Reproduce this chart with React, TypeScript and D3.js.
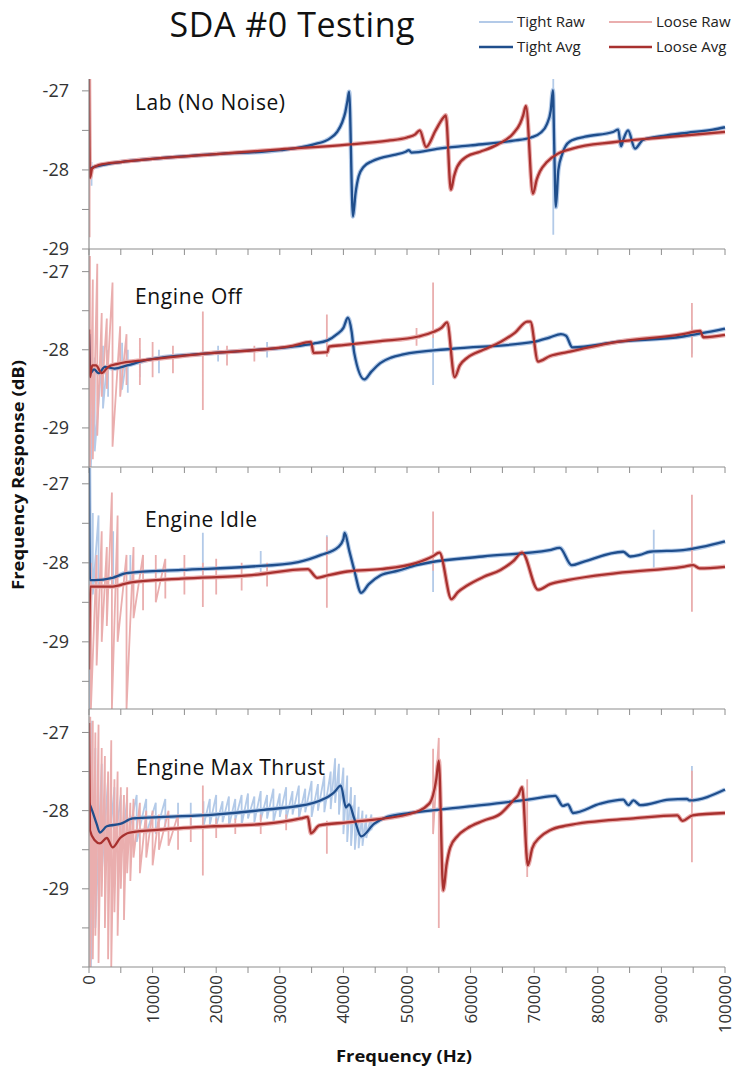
import React from 'react';
import * as d3 from 'd3';

type Pt = [number, number];
type Spike = [number, number, number];

// ---------- DATA ----------
const chartTitle = 'SDA #0 Testing';
const panelNames = ['Lab (No Noise)', 'Engine Off', 'Engine Idle', 'Engine Max Thrust'];
const legendLabels = ['Tight Raw', 'Tight Avg', 'Loose Raw', 'Loose Avg'];
const xTickValues = [0, 10000, 20000, 30000, 40000, 50000, 60000, 70000, 80000, 90000, 100000];
const yTickLabels = [-27, -28, -29];
const xTitle = 'Frequency (Hz)';
const yTitle = 'Frequency Response (dB)';

// Panel 1: Lab (No Noise)
const labTightAvg: Pt[] = [
  [0, -28.08], [300, -27.98], [1500, -27.95], [5000, -27.9], [10000, -27.86], [20000, -27.8],
  [30000, -27.75], [35200, -27.68], [37900, -27.6], [39000, -27.52], [39800, -27.4], [40300, -27.27],
  [40650, -27.12], [40900, -27.01], [41500, -28.59], [41900, -28.3], [42400, -28.08], [43200, -27.96],
  [44500, -27.89], [45800, -27.85], [48000, -27.81], [49800, -27.77], [50300, -27.75], [50700, -27.78],
  [55000, -27.73], [60000, -27.69], [66700, -27.63], [69500, -27.59], [71000, -27.53], [72000, -27.42],
  [72600, -27.25], [72950, -26.99], [73150, -27.7], [73400, -28.47], [73800, -28.0], [74400, -27.8],
  [75600, -27.64], [78000, -27.58], [82400, -27.52], [83200, -27.49], [83650, -27.7], [84000, -27.62],
  [84750, -27.5], [85850, -27.73], [87100, -27.62], [90300, -27.57], [94000, -27.53], [98100, -27.49],
  [100000, -27.46],
];
const labLooseAvg: Pt[] = [
  [0, -26.85], [150, -28.1], [500, -27.98], [1500, -27.94], [5000, -27.9], [10000, -27.86],
  [20000, -27.8], [30000, -27.74], [40600, -27.68], [47000, -27.63], [50000, -27.59], [51300, -27.55],
  [52000, -27.5], [53000, -27.71], [54500, -27.5], [55700, -27.34], [56100, -27.31], [56900, -28.25],
  [57400, -28.08], [57900, -27.96], [59400, -27.83], [61500, -27.77], [64200, -27.68], [66700, -27.54],
  [67800, -27.41], [68300, -27.3], [68700, -27.19], [69800, -28.3], [70400, -28.12], [70900, -28.02],
  [72000, -27.9], [73600, -27.8], [76000, -27.73], [82400, -27.65], [90000, -27.59], [100000, -27.52],
];
const labTightSpikes: Spike[] = [[400, -27.9, -28.2], [73000, -26.85, -28.82]];
const labLooseSpikes: Spike[] = [[100, -27.0, -28.85]];

// Panel 2: Engine Off
const offTightAvg: Pt[] = [
  [0, -27.8], [200, -28.3], [800, -28.25], [1500, -28.3], [2500, -28.22], [4000, -28.24],
  [6000, -28.2], [9100, -28.13], [18100, -28.05], [25000, -28.01], [32000, -27.96], [35300, -27.92],
  [37500, -27.88], [39000, -27.8], [40000, -27.72], [40700, -27.59], [41300, -27.77], [41700, -28.04],
  [43300, -28.38], [44400, -28.28], [45800, -28.17], [47500, -28.1], [49400, -28.06], [56800, -27.99],
  [69900, -27.9], [72500, -27.84], [74200, -27.8], [75000, -27.82], [76000, -27.97], [83000, -27.9],
  [93400, -27.83], [100000, -27.73],
];
const offLooseAvg: Pt[] = [
  [0, -27.74], [150, -28.35], [500, -28.2], [1100, -28.2], [2000, -28.3], [3000, -28.22],
  [4500, -28.18], [9100, -28.13], [18100, -28.05], [32000, -27.95], [34900, -27.9], [35300, -28.04],
  [37500, -28.03], [37700, -27.96], [40000, -27.94], [45800, -27.89], [51800, -27.83], [54200, -27.77],
  [55400, -27.72], [56300, -27.65], [57500, -28.35], [58300, -28.2], [59500, -28.1], [62000, -28.0],
  [64700, -27.9], [67000, -27.78], [68900, -27.64], [69400, -27.64], [70600, -28.15], [72500, -28.08],
  [75200, -28.03], [83000, -27.9], [93400, -27.8], [96100, -27.76], [96600, -27.84], [100000, -27.81],
];
const offTightSpikes: Spike[] = [
  [300, -27.9, -29.5], [900, -28.1, -29.3], [2200, -27.95, -28.75], [3000, -28.0, -28.6],
  [5200, -27.91, -28.51], [6100, -28.0, -28.55], [8000, -28.0, -28.35], [11000, -28.0, -28.3],
  [20300, -27.95, -28.15], [28000, -27.9, -28.1], [54100, -27.85, -28.45], [94800, -27.7, -28.05],
];
const offLooseSpikes: Spike[] = [
  [150, -26.8, -29.5], [600, -27.1, -29.4], [1300, -26.9, -29.1], [2000, -27.53, -28.6],
  [2800, -27.6, -28.5], [3700, -27.14, -29.24], [4900, -27.7, -28.6], [5900, -27.8, -28.45],
  [8000, -27.85, -28.45], [10000, -27.9, -28.35], [13200, -27.95, -28.3], [17900, -27.51, -28.77],
  [21700, -27.95, -28.2], [26000, -27.95, -28.15], [37400, -27.55, -28.09], [51500, -27.72, -27.95],
  [54100, -27.14, -27.85], [94800, -27.4, -28.1],
];

// Panel 3: Engine Idle
const idleTightAvg: Pt[] = [
  [0, -26.8], [150, -28.22], [900, -28.22], [3700, -28.19], [5900, -28.13], [14500, -28.09],
  [25000, -28.05], [32900, -27.99], [36500, -27.9], [39200, -27.8], [40000, -27.7], [40200, -27.62],
  [40900, -27.84], [41700, -28.09], [42800, -28.38], [44000, -28.27], [45800, -28.16], [48600, -28.1],
  [51500, -28.03], [61900, -27.92], [72400, -27.84], [74000, -27.81], [75900, -28.03], [77600, -27.99],
  [84000, -27.86], [85100, -27.92], [86600, -27.9], [88200, -27.86], [93400, -27.84], [100000, -27.73],
];
const idleLooseAvg: Pt[] = [
  [0, -29.35], [200, -28.3], [600, -28.3], [3700, -28.3], [6400, -28.25], [14500, -28.2],
  [25000, -28.16], [34400, -28.08], [35900, -28.19], [37500, -28.16], [40600, -28.11], [45800, -28.08],
  [51500, -28.0], [54000, -27.92], [55100, -27.87], [57000, -28.46], [58000, -28.37], [59400, -28.29],
  [62000, -28.18], [64700, -28.09], [66700, -27.98], [68100, -27.87], [70600, -28.34], [72500, -28.27],
  [75200, -28.22], [83000, -28.13], [93400, -28.05], [95000, -28.03], [96000, -28.07], [100000, -28.05],
];
const idleTightSpikes: Spike[] = [
  [100, -26.9, -29.85], [600, -27.37, -28.4], [1500, -27.4, -28.3], [3800, -27.6, -28.3],
  [6500, -27.9, -28.25], [17900, -27.62, -28.15], [27000, -27.85, -28.15], [37400, -27.65, -27.9],
  [54100, -28.0, -28.37], [88800, -27.58, -28.06],
];
const idleLooseSpikes: Spike[] = [
  [300, -28.0, -29.85], [1200, -27.9, -29.3], [2000, -27.6, -29.0], [2800, -27.8, -28.8],
  [3600, -27.11, -29.85], [4500, -27.4, -29.0], [5900, -27.9, -29.85], [7000, -27.8, -28.7],
  [8500, -27.9, -28.6], [10500, -27.9, -28.5], [12000, -27.95, -28.45], [15000, -27.9, -28.4],
  [17900, -28.0, -28.56], [20000, -27.95, -28.4], [24000, -28.0, -28.35], [28000, -28.0, -28.3],
  [37400, -27.67, -28.57], [54100, -27.35, -28.1], [94800, -27.14, -28.62],
];

// Panel 4: Engine Max Thrust
const maxTightAvg: Pt[] = [
  [0, -27.9], [500, -28.0], [1200, -28.17], [1700, -28.28], [2800, -28.2], [4900, -28.17],
  [6900, -28.1], [11800, -28.08], [19700, -28.05], [27500, -27.99], [35300, -27.9], [38500, -27.77],
  [39600, -27.68], [40400, -27.96], [40900, -27.92], [41700, -28.1], [42800, -28.33], [44800, -28.17],
  [46900, -28.08], [50500, -28.03], [59400, -27.95], [69800, -27.85], [73300, -27.81], [74500, -27.94],
  [75300, -27.92], [76100, -28.03], [80400, -27.91], [84000, -27.86], [84800, -27.93], [85600, -27.87],
  [86700, -27.93], [91200, -27.86], [94000, -27.85], [94400, -27.87], [100000, -27.73],
];
const maxLooseAvg: Pt[] = [
  [0, -26.88], [150, -28.25], [900, -28.38], [1700, -28.42], [2800, -28.35], [3700, -28.47],
  [4900, -28.35], [6400, -28.28], [11800, -28.24], [19700, -28.2], [27500, -28.17], [33300, -28.1],
  [34400, -28.08], [34900, -28.29], [36200, -28.19], [40600, -28.15], [50500, -28.04], [53500, -27.91],
  [54100, -27.8], [54600, -27.6], [55000, -27.36], [55700, -29.02], [56200, -28.7], [56800, -28.47],
  [58000, -28.32], [59400, -28.23], [62000, -28.13], [64700, -28.04], [66700, -27.87], [67500, -27.8],
  [68100, -27.7], [69000, -28.7], [69700, -28.48], [70900, -28.34], [72500, -28.25], [75200, -28.19],
  [85600, -28.1], [92500, -28.06], [93300, -28.13], [94900, -28.06], [100000, -28.03],
];
const maxTightSpikes: Spike[] = [
  [300, -26.85, -30.0], [1000, -27.2, -29.5], [2000, -27.4, -28.8], [3000, -27.6, -28.6],
  [4000, -27.7, -28.5], [5000, -27.8, -28.6], [6000, -27.85, -28.4], [7500, -27.8, -28.4],
  [9000, -27.85, -28.3], [10500, -27.9, -28.3], [12000, -27.85, -28.25], [14000, -27.9, -28.25],
  [16000, -27.9, -28.2], [18000, -27.88, -28.2], [19000, -27.85, -28.18], [20000, -27.8, -28.2],
  [21000, -27.88, -28.15], [22000, -27.82, -28.2], [23000, -27.85, -28.12], [24000, -27.8, -28.18],
  [25000, -27.78, -28.1], [26000, -27.82, -28.15], [27000, -27.75, -28.12], [28000, -27.8, -28.1],
  [29000, -27.72, -28.15], [30000, -27.78, -28.08], [31000, -27.7, -28.12], [32000, -27.75, -28.05],
  [33000, -27.68, -28.1], [34000, -27.72, -28.02], [35000, -27.62, -28.08], [36000, -27.66, -28.0],
  [37000, -27.55, -28.02], [38000, -27.5, -27.98], [38700, -27.33, -27.9], [39300, -27.4, -28.05],
  [40000, -27.45, -28.3], [40600, -27.55, -28.4], [41200, -27.7, -28.45], [41800, -27.8, -28.5],
  [42400, -27.95, -28.48], [43000, -28.0, -28.45], [43600, -28.05, -28.35], [44400, -28.05, -28.25],
  [54100, -27.8, -28.0], [94800, -27.43, -27.95],
];
const maxLooseSpikes: Spike[] = [
  [200, -26.8, -30.0], [600, -26.85, -29.9], [1000, -27.0, -29.6], [1500, -26.9, -29.95],
  [2000, -27.2, -29.1], [2500, -27.3, -29.5], [3000, -27.5, -29.9], [3500, -27.1, -30.0],
  [4000, -27.6, -29.3], [4500, -27.5, -29.6], [5000, -27.7, -29.0], [5500, -27.8, -29.4],
  [6000, -27.7, -28.8], [6500, -27.9, -28.9], [7000, -27.85, -28.6], [8000, -27.9, -28.8],
  [9000, -28.0, -28.6], [10000, -28.0, -28.7], [11000, -28.05, -28.5], [12500, -28.0, -28.45],
  [14000, -28.05, -28.5], [16000, -28.05, -28.4], [17900, -27.68, -28.83], [20000, -28.1, -28.35],
  [23000, -28.1, -28.3], [27000, -28.05, -28.3], [31000, -28.05, -28.25], [37400, -28.13, -28.55],
  [54100, -27.21, -28.3], [55000, -27.07, -29.5], [68900, -27.6, -28.85], [94800, -27.49, -28.66],
];

const panelTightAvg = [labTightAvg, offTightAvg, idleTightAvg, maxTightAvg];
const panelLooseAvg = [labLooseAvg, offLooseAvg, idleLooseAvg, maxLooseAvg];
const panelTightSpikes = [labTightSpikes, offTightSpikes, idleTightSpikes, maxTightSpikes];
const panelLooseSpikes = [labLooseSpikes, offLooseSpikes, idleLooseSpikes, maxLooseSpikes];

// ---------- LAYOUT / STYLE ----------
const W = 736;
const H = 1069;
const X0 = 89;
const X1 = 725;
const panelLayout = [
  { domain: [-29, -26.85], top: 79, bottom: 249, labelX: 135, labelY: 110, labelW: 150 },
  { domain: [-29.5, -26.8], top: 256, bottom: 467, labelX: 135, labelY: 304, labelW: 107 },
  { domain: [-29.85, -26.8], top: 468, bottom: 709, labelX: 145, labelY: 527, labelW: 112 },
  { domain: [-30, -26.7], top: 709, bottom: 967, labelX: 136, labelY: 775, labelW: 189 },
];
const C_TIGHT_RAW = '#b3cae8';
const C_TIGHT_AVG = '#1f4e8c';
const C_LOOSE_RAW = '#eaaeae';
const C_LOOSE_AVG = '#a8312f';
const AXIS = '#8e8e8e';
const FONT = '"Open Sans", "Liberation Sans", sans-serif';
const GAP = 1600; // spikes closer than this are joined as one noisy trace

const x = d3.scaleLinear().domain([0, 100000]).range([X0, X1]);
const minorX = d3.range(0, 100001, 5000);

export default function App() {
  return (
    <svg width={W} height={H} style={{ position: 'absolute', left: 0, top: 0, background: '#fff' }}
      fontFamily={FONT}>
      <defs>
        {panelLayout.map((p, i) => (
          <clipPath id={`clip${i}`} key={i}>
            <rect x={X0} y={p.top} width={X1 - X0 + 3} height={p.bottom - p.top} />
          </clipPath>
        ))}
      </defs>

      <text x={292} y={37} fontSize={34} textAnchor="middle" fill="#111" textLength={245}>{chartTitle}</text>

      {legendLabels.map((lab, i) => {
        const col = i < 2 ? 0 : 1;
        const row = i % 2;
        const lx = col === 0 ? 479 : 609;
        const lw = col === 0 ? 34 : 43;
        const ly = row === 0 ? 22 : 47;
        const colors = [C_TIGHT_RAW, C_TIGHT_AVG, C_LOOSE_RAW, C_LOOSE_AVG];
        return (
          <g key={lab}>
            <line x1={lx} x2={lx + lw} y1={ly} y2={ly} stroke={colors[i]} strokeWidth={row === 0 ? 2 : 2.5} />
            <text x={lx + lw + 4} y={ly + 5} fontSize={15} fill="#222">{lab}</text>
          </g>
        );
      })}

      {panelLayout.map((p, i) => {
        const y = d3.scaleLinear().domain(p.domain).range([p.bottom, p.top]);
        const line = d3.line<Pt>().x(d => x(d[0])).y(d => y(d[1])).curve(d3.curveMonotoneX);
        const spikePath = (s: Spike[]) => {
          let d = '';
          s.forEach((sp, k) => {
            const joined = k > 0 && sp[0] - s[k - 1][0] <= GAP;
            d += `${joined ? 'L' : 'M'}${x(sp[0])},${y(sp[1])}L${x(sp[0])},${y(sp[2])}`;
          });
          return d;
        };
        const ticks = d3.range(Math.ceil(p.domain[0] * 2) / 2, p.domain[1] + 0.001, 0.5);
        return (
          <g key={i}>
            <g clipPath={`url(#clip${i})`}>
              <path d={line(panelTightAvg[i]) || ''} fill="none" stroke={C_TIGHT_RAW} strokeWidth={4.5} strokeLinejoin="round" />
              <path d={spikePath(panelTightSpikes[i])} fill="none" stroke={C_TIGHT_RAW} strokeWidth={1.8} />
              <path d={line(panelLooseAvg[i]) || ''} fill="none" stroke={C_LOOSE_RAW} strokeWidth={4.5} strokeLinejoin="round" />
              <path d={spikePath(panelLooseSpikes[i])} fill="none" stroke={C_LOOSE_RAW} strokeWidth={1.8} />
              <path d={line(panelTightAvg[i]) || ''} fill="none" stroke={C_TIGHT_AVG} strokeWidth={2.3} strokeLinejoin="round" />
              <path d={line(panelLooseAvg[i]) || ''} fill="none" stroke={C_LOOSE_AVG} strokeWidth={2.3} strokeLinejoin="round" />
            </g>
            {ticks.map(t => (
              <line key={t} x1={X0 - 7} x2={X0} y1={y(t)} y2={y(t)} stroke={AXIS} strokeWidth={1} />
            ))}
            {yTickLabels.map(t => (
              <text key={t} x={69} y={y(t)} dy="0.35em" fontSize={18} textAnchor="end" fill="#333">{t}</text>
            ))}
            <line x1={X0} x2={X1} y1={p.bottom} y2={p.bottom} stroke={AXIS} strokeWidth={1.2} />
            {minorX.map(v => (
              <line key={v} x1={x(v)} x2={x(v)} y1={p.bottom} y2={p.bottom + 6} stroke={AXIS} strokeWidth={1} />
            ))}
            <text x={p.labelX} y={p.labelY} fontSize={21} fill="#111" textLength={p.labelW}>{panelNames[i]}</text>
          </g>
        );
      })}

      <line x1={X0} x2={X0} y1={79} y2={967} stroke={AXIS} strokeWidth={1.2} />

      {xTickValues.map(v => (
        <text key={v} transform={`translate(${x(v)},975) rotate(-90)`} dy="0.35em" fontSize={17}
          textAnchor="end" fill="#333">{v}</text>
      ))}

      <text x={404} y={1062} fontSize={16} fontWeight="bold" textAnchor="middle" fill="#111"
        textLength={136} lengthAdjust="spacingAndGlyphs">{xTitle}</text>
      <text transform="translate(24,475) rotate(-90)" fontSize={16} fontWeight="bold" textAnchor="middle"
        fill="#111" textLength={230} lengthAdjust="spacingAndGlyphs">{yTitle}</text>
    </svg>
  );
}
